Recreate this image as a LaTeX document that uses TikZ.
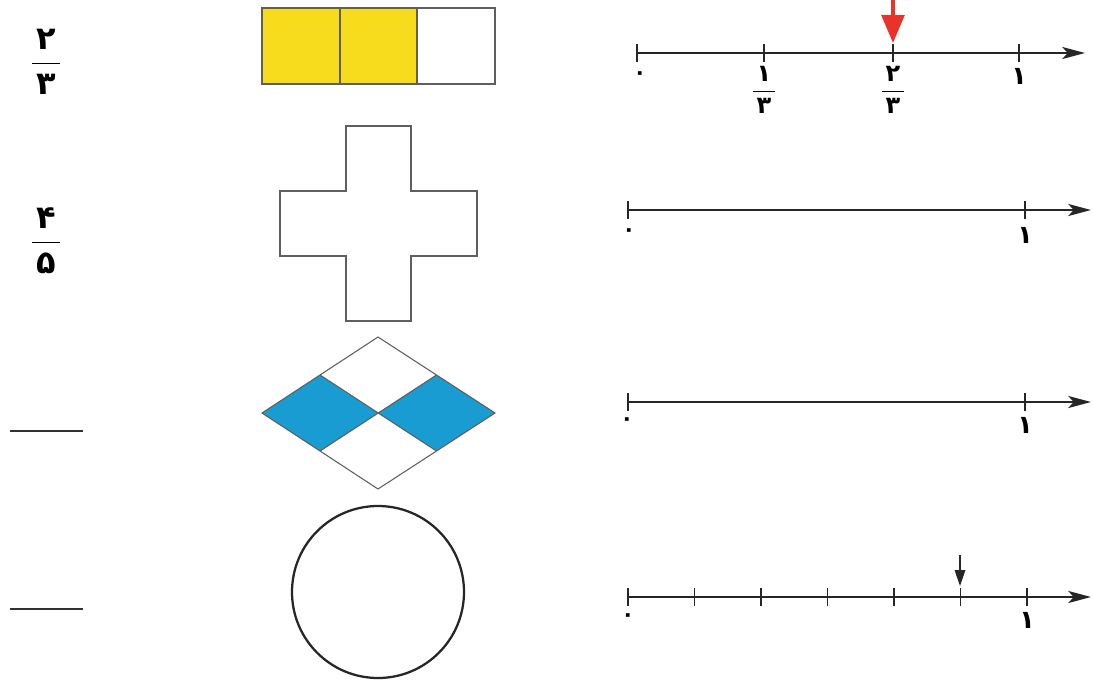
\documentclass[tikz,border=0pt]{standalone}
\usepackage{amsmath}
\usepackage{fontspec}
\newfontfamily\fafont[Script=Arabic]{DejaVu Sans}
\usetikzlibrary{arrows.meta,calc}

\definecolor{partyellow}{RGB}{246,220,28}
\definecolor{partblue}{RGB}{24,156,210}
\definecolor{markred}{RGB}{233,50,42}
\definecolor{edgegray}{RGB}{95,95,95}

\newcommand{\fafrac}[3]{$\dfrac{\makebox[#3]{\fafont\bfseries #1}}{\makebox[#3]{\fafont\bfseries #2}}$}

\begin{document}
\begin{tikzpicture}[
  x=0.75pt, y=-0.75pt,
  bigfrac/.style={inner sep=0pt, font=\fontsize{24}{24}\selectfont},
  tickfrac/.style={inner sep=0pt, font=\fontsize{18}{18}\selectfont},
  digit/.style={inner sep=0pt, font=\fafont\bfseries\fontsize{19}{19}\selectfont},
  zero/.style={inner sep=0pt, font=\fafont\bfseries\fontsize{16}{16}\selectfont},
  blank/.style={line width=1.8pt, draw=black!80},
  cell/.style={draw=edgegray, line width=1.3pt},
  outline/.style={draw=edgegray, line width=1pt},
  numline/.style={line width=1.8pt, draw=black!85, -{Stealth[length=17pt,width=9pt,inset=4pt]}},
  tick/.style={line width=0.9pt, draw=black!85},
  redmark/.style={line width=2.8pt, draw=markred, -{Triangle[length=21pt,width=17pt]}},
  blackmark/.style={line width=0.9pt, draw=black!85, -{Triangle[length=12pt,width=8pt]}}
]
\useasboundingbox (0,0) rectangle (1093,679);

\node[bigfrac] (f1) at (46,62) {\fafrac{۲}{۳}{21pt}};
\node[bigfrac] (f2) at (46,241) {\fafrac{۴}{۵}{21pt}};
\coordinate (b3l) at (10,431);
\coordinate (b3r) at (83,431);
\coordinate (b4l) at (10,609);
\coordinate (b4r) at (83,609);
\draw[blank] (b3l) -- (b3r);
\draw[blank] (b4l) -- (b4r);

\draw[cell, fill=partyellow] (262,8) rectangle (340,84);
\draw[cell, fill=partyellow] (340,8) rectangle (417,84);
\draw[cell] (417,8) rectangle (495,84);

\draw[outline] (346,126) -- (411,126) -- (411,191) -- (477,191) -- (477,256) -- (411,256)
  -- (411,321) -- (346,321) -- (346,256) -- (280,256) -- (280,191) -- (346,191) -- cycle;

\coordinate (rt) at (378,337);
\coordinate (rr) at (495,413);
\coordinate (rb) at (378,489);
\coordinate (rl) at (262,413);
\coordinate (rc) at (378,413);
\fill[partblue] (rl) -- ($(rl)!0.5!(rt)$) -- (rc) -- ($(rl)!0.5!(rb)$) -- cycle;
\fill[partblue] (rr) -- ($(rr)!0.5!(rt)$) -- (rc) -- ($(rr)!0.5!(rb)$) -- cycle;
\draw[outline, line width=0.8pt] (rt) -- (rr) -- (rb) -- (rl) -- cycle;
\draw[outline, line width=0.8pt] ($(rl)!0.5!(rt)$) -- ($(rr)!0.5!(rb)$);
\draw[outline, line width=0.8pt] ($(rr)!0.5!(rt)$) -- ($(rl)!0.5!(rb)$);

\draw[line width=1.7pt, draw=black!85] (378,592) circle[radius=64.5pt];

% number line 1
\coordinate (n1s) at (637,53);
\coordinate (n1e) at (1085,53);
\draw[numline] (n1s) -- (n1e);
\foreach \x in {637,764,893,1019}
  \draw[tick] (\x,44) -- (\x,62);
\node[zero] (n1a) at (640,76) {۰};
\node[tickfrac] (n1b) at (764,90) {\fafrac{۱}{۳}{16pt}};
\node[tickfrac] (n1c) at (893,90) {\fafrac{۲}{۳}{16pt}};
\node[digit] (n1d) at (1019,76) {۱};
\coordinate (r1top) at (893,-2);
\coordinate (r1tip) at (893,43);
\draw[redmark] (r1top) -- (r1tip);

% number line 2
\coordinate (n2s) at (628,210);
\coordinate (n2e) at (1091,210);
\draw[numline] (n2s) -- (n2e);
\foreach \x in {628,1025}
  \draw[tick] (\x,201) -- (\x,219);
\node[zero] (n2a) at (629,233) {۰};
\node[digit] (n2b) at (1025,235) {۱};

% number line 3
\coordinate (n3s) at (628,402);
\coordinate (n3e) at (1091,402);
\draw[numline] (n3s) -- (n3e);
\foreach \x in {628,1025}
  \draw[tick] (\x,393) -- (\x,411);
\node[zero] (n3a) at (627,422) {۰};
\node[digit] (n3b) at (1025,425) {۱};

% number line 4
\coordinate (n4s) at (628,597);
\coordinate (n4e) at (1091,597);
\draw[numline] (n4s) -- (n4e);
\foreach \k in {0,...,6}
  \draw[tick] ({628+66.5*\k},588) -- ({628+66.5*\k},606);
\node[zero] (n4a) at (628,618) {۰};
\node[digit] (n4b) at (1027,620) {۱};
\coordinate (m4top) at (960,555);
\coordinate (m4tip) at (960,586);
\draw[blackmark] (m4top) -- (m4tip);

\end{tikzpicture}
\end{document}
